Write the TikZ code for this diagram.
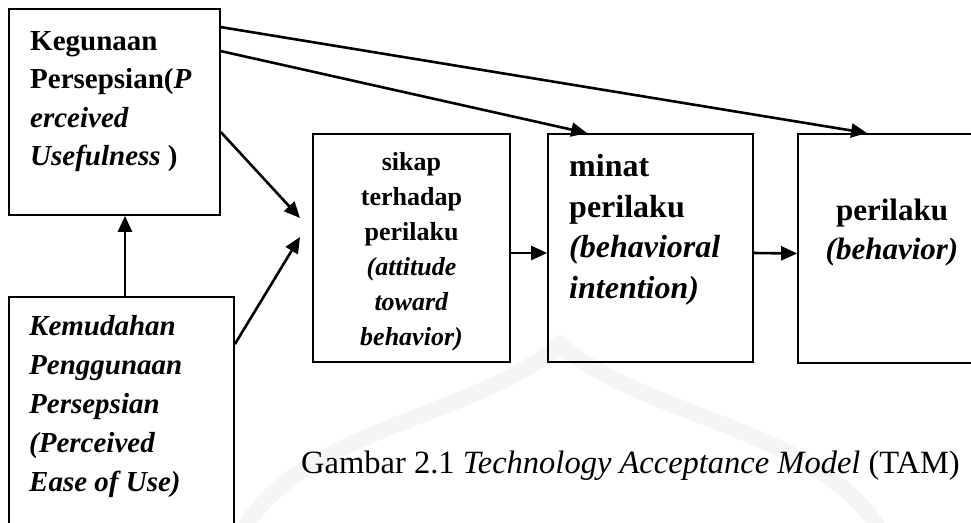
\documentclass[tikz,border=0pt]{standalone}
\usepackage{fontspec}
\setmainfont{Liberation Serif}
\usetikzlibrary{arrows.meta,calc}
\begin{document}
\begin{tikzpicture}[x=1pt,y=-1pt,
  mybox/.style={draw,line width=1.8pt,inner sep=0pt},
  arr/.style={line width=2.6pt,-{Triangle[length=16pt,width=14pt]}},
  txt/.style={inner sep=0pt,text=black}]
\useasboundingbox (0,0) rectangle (971,522);
\clip (0,0) rectangle (971,522);
\fill[white] (0,0) rectangle (971,522);

% faint background emblem
\draw[black!4,line width=16pt,line cap=round]
  (238,540) .. controls (290,430) and (470,420) .. (560,345)
  .. controls (650,420) and (830,430) .. (885,540);

% boxes
\node[mybox,minimum width=211pt,minimum height=206pt] (b1) at (114.5,112) {};
\node[mybox,minimum width=225pt,minimum height=250pt] (b2) at (121.5,422) {};
\node[mybox,minimum width=197pt,minimum height=228pt] (b3) at (411.5,248) {};
\node[mybox,minimum width=205pt,minimum height=228pt] (b4) at (650.5,248) {};
\node[mybox,minimum width=210pt,minimum height=229pt] (b5) at (903,248.5) {};

% box texts
\node[txt,anchor=north west,align=left,font=\fontsize{29}{38.2}\selectfont\bfseries] (t1) at (30,31.5)
  {Kegunaan\\Persepsian(\textit{P}\\\textit{erceived}\\\textit{Usefulness} )};
\node[txt,anchor=north west,align=left,font=\fontsize{29}{39}\selectfont\bfseries\itshape] (t2) at (29,315)
  {Kemudahan\\Penggunaan\\Persepsian\\(Perceived\\Ease of Use)};
\node[txt,anchor=north,align=center,font=\fontsize{26}{35}\selectfont\bfseries] (t3) at (411.5,152)
  {sikap\\terhadap\\perilaku\\\textit{(attitude}\\\textit{toward}\\\textit{behavior)}};
\node[txt,anchor=north west,align=left,font=\fontsize{32}{40.7}\selectfont\bfseries] (t4) at (569,154)
  {minat\\perilaku\\\textit{(behavioral}\\\textit{intention)}};
\node[txt,anchor=north,align=center,font=\fontsize{31}{39}\selectfont\bfseries] (t5) at (892,199)
  {perilaku\\\textit{(behavior)}};

% caption
\node[txt,anchor=base west,font=\fontsize{32.5}{38}\selectfont] (cap) at (301,473)
  {Gambar 2.1 \textit{Technology Acceptance Model} (TAM)};

% connector end points
\coordinate (ax) at (125,0);
\coordinate (e1) at (300,218);
\coordinate (e2) at (300,237);

% connectors
\draw[arr] (b2.north -| ax) -- (b1.south -| ax);
\draw[arr] ($(b1.north east)+(0,19)$) -- ($(b5.north west)+(70,0)$);
\draw[arr] ($(b1.north east)+(0,43)$) -- ($(b4.north west)+(40,0)$);
\draw[arr] ($(b1.north east)+(0,124)$) -- (e1);
\draw[arr] ($(b2.north east)+(0,48)$) -- (e2);
\draw[arr] ($(b3.east)+(0,5)$) -- ($(b4.west)+(0,5)$);
\draw[arr] ($(b4.east)+(0,5)$) -- ($(b5.west)+(0,5)$);
\end{tikzpicture}
\end{document}
